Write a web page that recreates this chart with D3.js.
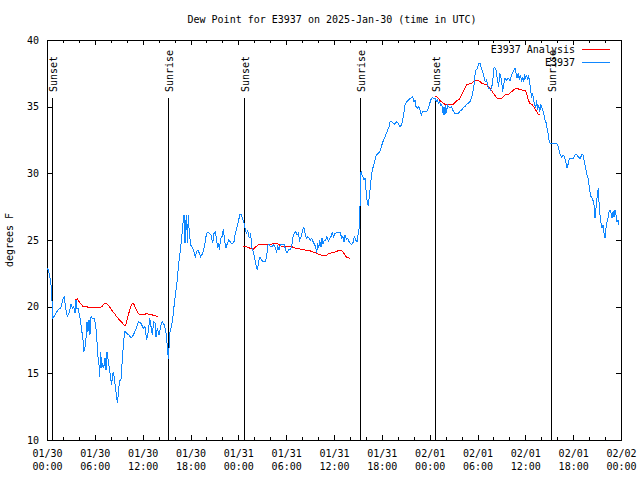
<!DOCTYPE html>
<html><head><meta charset="utf-8">
<script src="https://cdn.jsdelivr.net/npm/d3@7"></script>
<style>
body{margin:0;background:#fff;}
svg{display:block;background:#fff;}
text{font-family:"DejaVu Sans Mono","Liberation Mono",monospace;font-size:10px;fill:#000;}
</style></head><body>
<svg id="chart" width="640" height="480"></svg>
<script>
const chartTitle = "Dew Point for E3937 on 2025-Jan-30 (time in UTC)";
const yLabel = "degrees F";
const seriesNames = ["E3937 Analysis", "E3937"];
const seriesColors = ["#ff0000", "#0f87ff"];
const startTime = Date.UTC(2025, 0, 30, 0, 0);
const endTime = Date.UTC(2025, 1, 2, 0, 0);
const yTicks = [10, 15, 20, 25, 30, 35, 40];
const sunEventHours = [0.63, 15.2, 24.75, 39.3, 48.67, 63.25];
const sunEventNames = ["Sunset", "Sunrise", "Sunset", "Sunrise", "Sunset", "Sunrise"];

const obsHours = [0.00,0.17,0.33,0.50,0.59,0.75,1.00,1.42,1.71,2.05,2.17,2.34,2.55,2.76,3.01,3.18,3.35,3.51,3.64,3.76,3.93,4.06,4.22,4.35,4.52,4.64,4.77,4.89,5.02,5.14,5.27,5.39,5.52,5.69,5.94,6.10,6.23,6.36,6.52,6.61,6.73,6.86,6.98,7.11,7.28,7.40,7.53,7.69,7.82,7.99,8.11,8.24,8.36,8.49,8.61,8.74,8.86,8.95,9.12,9.28,9.41,9.53,9.66,9.78,9.99,10.29,10.54,10.83,11.12,11.46,11.79,12.08,12.29,12.50,12.71,12.88,13.05,13.21,13.38,13.55,13.67,13.84,14.05,14.30,14.47,14.72,14.97,15.14,15.22,
15.43,15.55,15.68,15.85,15.97,16.10,16.27,16.39,16.52,16.68,16.85,16.98,17.10,17.19,17.31,17.39,17.52,17.60,17.73,17.85,18.02,18.27,18.48,18.61,18.77,18.94,19.11,19.28,19.53,19.74,19.94,20.11,20.36,20.57,20.78,20.95,21.12,21.28,21.41,21.53,21.62,21.78,21.95,22.12,22.29,22.45,22.62,22.79,22.96,23.12,23.29,23.46,23.62,23.79,24.00,24.21,24.38,24.54,24.71,24.88,25.05,25.17,25.30,25.46,25.55,25.67,25.88,26.05,26.22,26.38,26.55,26.72,26.89,27.14,27.39,27.55,27.72,27.89,28.06,28.22,28.39,28.60,28.81,28.93,
29.10,29.27,29.52,29.77,29.94,30.11,30.27,30.52,30.69,30.82,31.03,31.19,31.36,31.53,31.69,31.86,32.03,32.20,32.36,32.53,32.70,32.87,33.03,33.20,33.37,33.53,33.70,33.83,33.95,34.08,34.20,34.37,34.50,34.62,34.79,34.96,35.12,35.29,35.46,35.62,35.79,35.96,36.13,36.29,36.54,36.80,36.96,37.13,37.26,37.38,37.55,37.72,37.88,38.05,38.22,38.38,38.55,38.72,38.89,39.05,39.18,39.26,39.35,39.39,39.51,39.64,39.76,39.89,40.02,40.18,40.31,40.43,40.56,40.68,40.81,40.98,41.14,41.31,41.56,41.73,41.90,42.06,42.23,42.40,42.57,42.73,42.90,43.03,43.24,43.44,
43.65,43.86,44.07,44.28,44.49,44.70,44.91,45.12,45.33,45.53,45.74,45.87,46.04,46.16,46.29,46.45,46.62,46.79,46.96,47.08,47.42,47.71,47.96,48.13,48.34,48.55,48.71,48.84,48.96,49.09,49.21,49.38,49.51,49.63,49.72,49.80,49.92,50.01,50.13,50.22,50.39,50.55,50.72,50.85,50.97,51.18,51.39,51.60,51.81,52.02,52.22,52.43,52.64,52.85,53.06,53.23,53.40,53.56,53.69,53.81,53.98,54.15,54.32,54.44,54.61,54.73,54.86,54.98,55.15,55.28,55.40,55.53,55.65,55.78,55.90,56.03,56.16,56.28,56.41,56.53,56.66,56.78,56.91,57.03,57.16,57.28,57.45,57.66,57.87,
58.08,58.29,58.50,58.71,58.83,58.96,59.12,59.25,59.37,59.54,59.67,59.79,59.92,60.04,60.17,60.29,60.42,60.55,60.67,60.80,60.92,61.05,61.17,61.30,61.42,61.55,61.67,61.80,61.93,62.05,62.18,62.30,62.47,62.64,62.76,62.89,63.01,63.14,63.51,63.93,64.06,64.23,64.39,64.56,64.73,64.89,65.06,65.23,65.40,65.52,65.81,66.02,66.23,66.44,66.65,66.86,67.07,67.24,67.36,67.49,67.61,67.74,67.86,67.99,68.11,68.24,68.41,68.53,68.66,68.74,68.82,68.95,69.08,69.16,69.24,69.37,69.49,69.62,69.74,69.87,69.99,70.12,70.25,70.37,70.50,70.63,70.75,70.88,71.00,71.13,71.25,71.38,71.50,71.63,71.75];
const obsDewpt = [22.9,22.75,22.38,21.63,20.88,19.13,19.38,19.8,19.88,20.68,20.75,19.88,19.25,19.5,20.18,19.88,20.0,19.5,20.5,19.88,19.88,19.38,18.88,18.25,17.5,16.63,17.0,17.63,18.88,18.13,19.0,17.88,19.25,19.13,19.08,18.63,17.88,16.38,15.63,14.75,16.63,15.38,15.75,15.38,16.13,15.25,16.63,15.88,15.38,14.63,14.13,15.0,15.08,14.38,13.88,13.13,12.75,13.63,14.5,14.5,15.75,16.75,17.63,18.13,18.0,17.88,17.63,17.88,18.25,18.88,18.75,18.38,18.5,17.5,18.13,19.13,18.5,17.88,18.88,18.75,17.75,18.38,17.88,18.63,18.88,18.63,17.88,16.63,16.1,
18.13,18.38,18.75,19.5,20.25,20.88,21.63,22.38,23.25,24.0,24.88,25.75,26.5,26.88,24.75,26.25,26.88,24.75,26.88,25.5,24.63,24.38,24.0,23.75,24.13,24.25,24.0,23.75,24.0,24.5,25.25,25.58,25.5,25.38,24.75,25.5,25.63,25.0,24.38,24.75,24.25,25.13,25.25,25.8,24.88,24.38,24.75,25.0,24.88,24.75,24.75,24.88,25.5,25.88,26.38,26.95,26.88,26.63,26.25,25.75,25.5,25.75,25.25,25.13,25.5,24.5,24.13,23.63,23.13,22.75,23.38,23.75,23.5,23.38,23.38,23.75,24.63,24.63,24.5,24.5,24.63,24.5,24.13,24.5,
24.25,24.63,24.7,24.63,24.25,24.0,24.25,24.3,24.5,25.13,25.5,25.63,25.38,25.5,25.0,25.25,25.63,26.0,25.5,25.13,25.25,25.13,25.0,25.13,24.88,24.7,24.5,24.0,24.75,24.38,25.0,24.5,25.13,24.7,25.0,25.0,25.25,24.88,25.13,25.25,25.55,25.25,25.5,25.55,25.55,25.55,25.13,25.25,24.88,25.38,25.05,25.13,24.88,24.75,24.63,24.8,25.25,25.0,24.88,25.5,26.0,27.5,28.75,30.13,29.88,29.75,29.5,29.63,28.75,27.75,27.63,28.25,29.0,29.75,30.25,30.63,31.0,31.38,31.5,31.63,31.88,32.25,32.5,32.75,33.0,33.25,33.5,33.88,33.88,33.75,
33.68,33.88,33.75,33.5,33.63,34.25,35.13,35.38,35.5,35.63,35.68,35.75,35.38,35.5,35.0,34.88,35.0,34.75,34.38,34.63,34.63,34.68,35.13,35.5,35.68,35.63,35.63,35.38,35.5,35.25,35.38,35.13,35.18,34.75,34.38,35.0,34.38,35.13,34.5,35.13,35.0,34.93,35.0,34.88,34.63,34.5,34.5,34.5,34.68,34.75,34.93,35.0,35.18,35.25,35.38,35.63,36.0,36.63,37.38,37.75,37.88,38.25,38.25,38.0,37.63,37.5,37.13,36.88,37.0,36.63,36.38,36.38,36.25,36.5,36.75,37.88,37.93,37.88,37.38,36.88,36.5,37.5,37.25,36.88,36.13,36.63,37.13,37.0,37.13,
36.93,37.38,37.63,37.88,37.5,37.13,37.5,37.0,37.38,36.88,37.25,36.88,37.33,37.13,37.38,37.0,37.33,36.88,36.13,35.75,35.93,35.5,35.13,34.88,35.5,34.75,35.13,34.63,35.13,35.0,34.75,34.5,34.0,33.75,33.25,32.88,32.33,32.25,32.25,32.25,32.13,31.75,31.38,31.18,31.38,31.25,30.88,30.43,30.75,31.13,31.13,31.13,31.38,31.38,31.25,31.08,31.38,31.38,31.0,30.63,30.25,29.88,29.63,29.13,28.63,28.25,28.13,27.88,27.5,26.63,27.13,27.88,28.63,28.88,27.88,26.88,26.25,25.88,26.13,25.5,25.13,25.88,26.38,26.63,27.13,27.25,27.0,26.63,27.13,26.75,27.25,26.88,26.38,26.5,26.13];

const anaHours = [3.51,3.81,4.01,4.27,4.56,4.98,5.18,5.81,6.44,6.77,6.94,7.11,7.36,7.61,7.82,8.03,8.24,8.53,8.74,9.03,9.28,9.49,9.70,9.87,10.04,10.20,10.41,10.62,10.79,10.95,11.12,11.37,11.62,11.96,12.29,12.50,12.79,13.05,13.34,13.63,13.88,
18.0,
24.63,25.05,25.46,25.88,26.30,26.72,27.34,27.76,28.18,28.60,29.02,29.44,29.85,30.27,30.69,31.11,31.53,31.95,32.36,32.78,33.20,33.62,34.04,34.45,34.87,35.29,35.71,36.13,36.54,36.96,37.17,37.38,37.59,38.01,
43.0,
48.67,48.88,49.09,49.30,49.51,49.72,49.92,50.13,50.55,50.97,51.18,51.39,51.60,51.81,52.02,52.22,52.43,52.64,52.85,53.06,53.27,53.48,53.69,54.11,54.32,54.53,54.94,55.15,55.36,55.57,55.78,55.99,56.20,56.41,56.62,56.83,57.03,57.24,57.45,57.87,58.29,58.71,59.12,59.54,59.96,60.08,60.21,60.38,60.55,60.80,61.05,61.21,61.42,61.63,61.88];
const anaDewpt = [20.55,20.58,20.38,20.18,20.0,20.0,19.95,19.95,19.95,19.95,20.05,20.18,20.25,20.18,20.0,19.83,19.63,19.43,19.25,19.05,18.88,18.75,18.58,18.63,19.0,19.38,19.83,20.18,20.25,20.13,19.88,19.58,19.38,19.38,19.43,19.5,19.43,19.45,19.33,19.3,19.3,
null,
24.55,24.5,24.38,24.3,24.55,24.7,24.7,24.63,24.7,24.75,24.7,24.5,24.55,24.55,24.5,24.4,24.35,24.3,24.25,24.25,24.13,24.05,23.95,23.85,23.8,23.95,24.05,24.1,24.2,24.2,24.05,23.88,23.68,23.63,
null,
35.75,35.75,35.63,35.45,35.38,35.25,35.18,35.13,35.13,35.18,35.33,35.43,35.5,35.63,35.88,36.13,36.38,36.63,36.68,36.75,36.75,36.88,36.98,36.98,36.88,36.75,36.68,36.63,36.5,36.38,36.2,36.0,35.83,35.68,35.58,35.58,35.63,35.75,35.88,35.88,36.13,36.33,36.33,36.25,36.25,36.13,35.88,35.5,35.25,35.18,35.0,34.83,34.63,34.38,34.38];

// ---------- drawing ----------
const svg = d3.select("#chart");
const plotL = 47, plotR = 621, plotT = 40, plotB = 440;
const hourToDate = h => new Date(startTime + h * 3600e3);

const x = d3.scaleUtc().domain([new Date(startTime), new Date(endTime)]).range([plotL, plotR]);
const y = d3.scaleLinear().domain([yTicks[0], yTicks[yTicks.length - 1]]).range([plotB, plotT]);

// title
svg.append("text").attr("x", 332).attr("y", 23).attr("text-anchor", "middle").text(chartTitle);
// y label
svg.append("text").attr("transform", "translate(13,240) rotate(-90)").attr("text-anchor", "middle").text(yLabel);

// sunrise/sunset markers (behind data)
const sunG = svg.append("g");
sunEventHours.forEach((h, i) => {
  const sx = Math.round(x(hourToDate(h))) + 0.5;
  sunG.append("line").attr("x1", sx).attr("x2", sx).attr("y1", 98).attr("y2", plotB)
    .attr("stroke", "#000").attr("stroke-width", 1).attr("shape-rendering", "crispEdges");
  sunG.append("text").attr("transform", `translate(${sx + 4.5},92) rotate(-90)`)
    .attr("text-anchor", "start").text(sunEventNames[i]);
});

// axes
function styleAxis(g) {
  g.select(".domain").remove();
  g.selectAll("line").attr("stroke", "#000").attr("shape-rendering", "crispEdges");
}
svg.append("g").attr("transform", `translate(0,${plotB})`)
  .call(d3.axisBottom(x).ticks(d3.utcHour.every(2)).tickSize(-3).tickSizeOuter(0).tickFormat(""))
  .call(styleAxis);
svg.append("g").attr("transform", `translate(0,${plotT})`)
  .call(d3.axisTop(x).ticks(d3.utcHour.every(2)).tickSize(-3).tickSizeOuter(0).tickFormat(""))
  .call(styleAxis);
const bx = svg.append("g").attr("transform", `translate(0,${plotB})`)
  .call(d3.axisBottom(x).ticks(d3.utcHour.every(6)).tickSize(-5).tickSizeOuter(0).tickFormat(""))
  .call(styleAxis);
svg.append("g").attr("transform", `translate(0,${plotT})`)
  .call(d3.axisTop(x).ticks(d3.utcHour.every(6)).tickSize(-5).tickSizeOuter(0).tickFormat(""))
  .call(styleAxis);
const fmtDay = d3.utcFormat("%m/%d"), fmtHour = d3.utcFormat("%H:%M");
bx.selectAll(".tick").each(function(d) {
  const t = d3.select(this);
  t.select("text").remove();
  t.append("text").attr("y", 17).attr("text-anchor", "middle").text(fmtDay(d));
  t.append("text").attr("y", 30).attr("text-anchor", "middle").text(fmtHour(d));
});
svg.append("g").attr("transform", `translate(${plotL},0)`)
  .call(d3.axisLeft(y).tickValues(yTicks).tickSize(-5).tickSizeOuter(0).tickPadding(8).tickFormat(d3.format("d")))
  .call(styleAxis)
  .call(g => g.attr("font-family", null).attr("font-size", null))
  .call(g => g.selectAll("text").attr("fill", "#000"));
svg.append("g").attr("transform", `translate(${plotR},0)`)
  .call(d3.axisRight(y).tickValues(yTicks).tickSize(-5).tickSizeOuter(0).tickFormat(""))
  .call(styleAxis);
svg.append("rect").attr("x", plotL + 0.5).attr("y", plotT + 0.5).attr("width", plotR - plotL).attr("height", plotB - plotT)
  .attr("fill", "none").attr("stroke", "#000").attr("shape-rendering", "crispEdges");

// data lines
const ana = anaHours.map((h, i) => ({t: hourToDate(h), v: anaDewpt[i]}));
const obs = obsHours.map((h, i) => ({t: hourToDate(h), v: obsDewpt[i]}));
const line = d3.line().defined(d => d.v != null).x(d => x(d.t)).y(d => y(d.v));
svg.append("path").datum(ana).attr("d", line).attr("fill", "none").attr("stroke", seriesColors[0])
  .attr("stroke-width", 1).attr("shape-rendering", "crispEdges");
svg.append("path").datum(obs).attr("d", line).attr("fill", "none").attr("stroke", seriesColors[1])
  .attr("stroke-width", 1).attr("shape-rendering", "crispEdges");

// legend
const legY = [49, 62];
seriesNames.forEach((name, i) => {
  svg.append("text").attr("x", 575).attr("y", legY[i] + 4).attr("text-anchor", "end").text(name);
  svg.append("line").attr("x1", 582).attr("x2", 610).attr("y1", legY[i] + 0.5).attr("y2", legY[i] + 0.5)
    .attr("stroke", seriesColors[i]).attr("stroke-width", 1).attr("shape-rendering", "crispEdges");
});
</script>
</body></html>
